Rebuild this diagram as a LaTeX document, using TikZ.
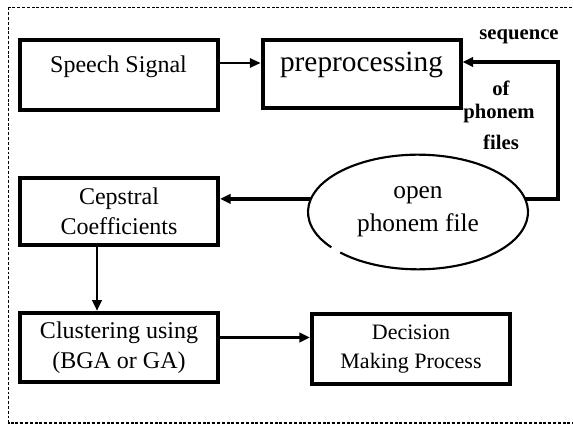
\documentclass[tikz,border=0pt]{standalone}
\usepackage{fontspec}
\setmainfont{Liberation Serif}
\usetikzlibrary{shapes.geometric,arrows.meta,positioning}

\begin{document}
\begin{tikzpicture}[x=0.75pt, y=-0.75pt,
    box/.style={draw, line width=3pt, minimum width=148.5pt, minimum height=51pt, align=center, font=\fontsize{18}{22.5}\selectfont},
    upper/.style={text height=13pt, text depth=17pt},
    flow/.style={line width=2pt, -{Triangle[length=8pt,width=7pt]}},
    side/.style={font=\bfseries\fontsize{15.5}{17}\selectfont}]
  \useasboundingbox (0,0) rectangle (573,424);
  \draw[line width=1pt, dash pattern=on 2.2pt off 1.4pt] (8.5,7.5) rectangle (590,423);

  \node[box, upper, minimum height=52.5pt] (speech) at (118.5,75) {Speech Signal};
  \node[box, upper, font=\fontsize{22}{26}\selectfont] (prep) at (361.5,74) {preprocessing};
  \node[box, minimum height=50pt] (ceps) at (119,211.5) {Cepstral\\Coefficients};
  \node[ellipse, minimum width=165pt, minimum height=86pt, inner sep=0pt, outer sep=0pt,
        align=center, font=\fontsize{19}{25}\selectfont] (phon) at (418,212) {open\\phonem file};
  \node[box, minimum height=52pt] (clus) at (119,347.5) {Clustering using\\(BGA or GA)};
  \node[box, minimum height=52pt, font=\fontsize{16.5}{22}\selectfont] (dec) at (411,349) {Decision\\Making Process};

  \node[side] (seq) at (519,37) {sequence};
  \node[side] (of) at (501,88) {of};
  \node[side] (phonem) at (499,114) {phonem};
  \node[side] (files) at (501,142) {files};
  \coordinate (corner) at (558,62);

  \draw[line width=1.6pt] (phon.center) ++(38:82.5pt and 43pt)
    arc[start angle=38, end angle=218, x radius=82.5pt, y radius=43pt];
  \draw[line width=1.6pt] (phon.center) ++(225:82.5pt and 43pt)
    arc[start angle=225, end angle=398, x radius=82.5pt, y radius=43pt];

  \draw[flow, line width=1.5pt] ([yshift=9pt]speech.east) -- ([yshift=9pt]speech.east -| prep.west);
  \draw[flow, line width=2.5pt] (phon.7) -| (corner) -- (corner -| prep.east);
  \draw[flow, line width=2.5pt] (phon.173) -- (phon.173 -| ceps.east);
  \draw[flow] ([xshift=-16.5pt]ceps.south) -- ([xshift=-16.5pt]ceps.south |- clus.north);
  \draw[flow] ([yshift=7.5pt]clus.east) -- ([yshift=7.5pt]clus.east -| dec.west);
\end{tikzpicture}
\end{document}
